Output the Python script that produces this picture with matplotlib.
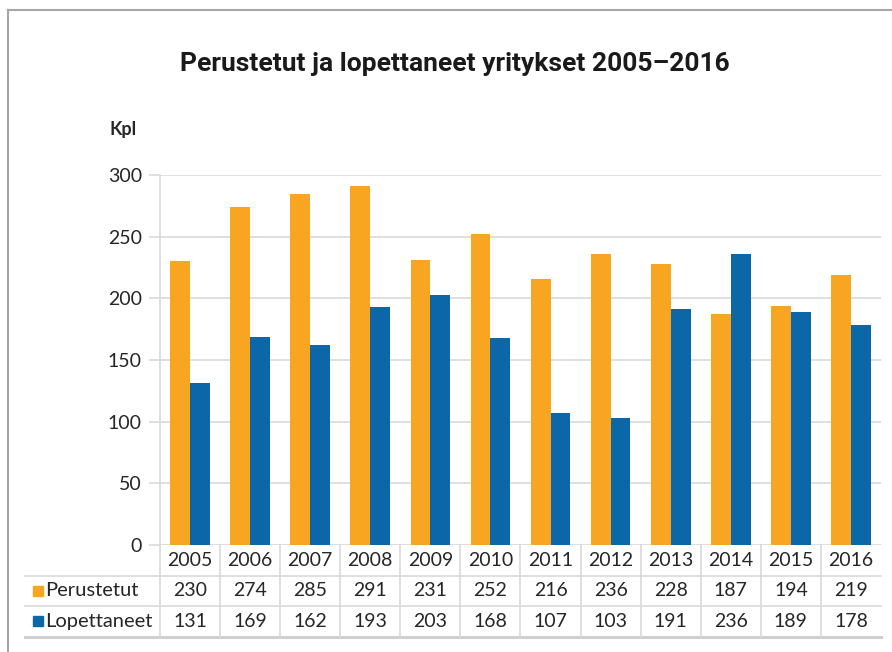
import matplotlib
matplotlib.use('Agg')
import numpy as np
from matplotlib import pyplot as plt

years = ['2005', '2006', '2007', '2008', '2009', '2010',
         '2011', '2012', '2013', '2014', '2015', '2016']
perustetut = [230, 274, 285, 291, 231, 252, 216, 236, 228, 187, 194, 219]
lopettaneet = [131, 169, 162, 193, 203, 168, 107, 103, 191, 236, 189, 178]
series_names = ['Perustetut', 'Lopettaneet']
yticks = [0, 50, 100, 150, 200, 250, 300]

ORANGE = '#F8A622'
BLUE = '#0B67A8'
GRID = '#D9D9D9'
TEXT = '#262626'

plt.rcParams['font.family'] = ['Lato', 'DejaVu Sans']

W, H = 892, 652
fig = plt.figure(figsize=(W / 100, H / 100), dpi=100)

# axes box in pixels: x 160..881, y 175..545 (from top)
ax_l, ax_r, ax_t, ax_b = 160, 881, 175, 545
ax = fig.add_axes([ax_l / W, 1 - ax_b / H, (ax_r - ax_l) / W, (ax_b - ax_t) / H])

x = np.arange(len(years))
bw = 0.33
ax.bar(x - bw / 2, perustetut, bw, color=ORANGE, zorder=3)
ax.bar(x + bw / 2, lopettaneet, bw, color=BLUE, zorder=3)

ax.set_xlim(-0.5, len(years) - 0.5)
ax.set_ylim(0, 300)
ax.set_yticks(yticks)
ax.set_xticks([])
ax.grid(axis='y', color=GRID, linewidth=1.2, zorder=0)
ax.tick_params(axis='y', length=8, width=1.2, color=GRID, pad=5,
               labelsize=14, labelcolor=TEXT)
for s in ['top', 'right', 'bottom']:
    ax.spines[s].set_visible(False)
ax.spines['left'].set_color(GRID)
ax.spines['left'].set_linewidth(1.2)

# data table below the axes
px = 300 / (ax_b - ax_t)          # data units per pixel (vertical)
colw = (ax_r - ax_l) / len(years)  # pixels per column
row_h = 30.5
rows_y = [-row_h * i * px for i in range(4)]
left_x = -0.5 - (ax_l - 25) / colw

tbl = dict(color=GRID, linewidth=1.2, clip_on=False)
for i in range(1, 3):
    ax.plot([left_x, len(years) - 0.5], [rows_y[i]] * 2, **tbl)
ax.plot([left_x, len(years) - 0.5], [rows_y[3]] * 2, color='#CFCFCF',
        linewidth=2.2, clip_on=False)
for i in range(len(years)):
    ax.plot([i - 0.5] * 2, [0, rows_y[3]], **tbl)

for i, yr in enumerate(years):
    ax.text(i, (rows_y[0] + rows_y[1]) / 2, yr, ha='center', va='center',
            fontsize=14, color=TEXT, clip_on=False)
    ax.text(i, (rows_y[1] + rows_y[2]) / 2, str(perustetut[i]), ha='center',
            va='center', fontsize=14, color=TEXT, clip_on=False)
    ax.text(i, (rows_y[2] + rows_y[3]) / 2, str(lopettaneet[i]), ha='center',
            va='center', fontsize=14, color=TEXT, clip_on=False)

for k, (name, col) in enumerate(zip(series_names, [ORANGE, BLUE])):
    yc = (rows_y[k + 1] + rows_y[k + 2]) / 2
    mx = -0.5 - (ax_l - 37.5) / colw
    ax.plot([mx], [yc], marker='s', markersize=7, color=col, clip_on=False)
    ax.text(-0.5 - (ax_l - 45) / colw, yc, name, ha='left', va='center',
            fontsize=14.5, color=TEXT, clip_on=False)

# unit label and title
fig.text(123 / W, 1 - 130 / H, 'Kpl', ha='center', va='center',
         fontsize=13, fontweight='bold', color=TEXT)
fig.text(455 / W, 1 - 64 / H, 'Perustetut ja lopettaneet yritykset 2005\u20132016',
         ha='center', va='center', fontsize=19, fontweight='bold', color='#1a1a1a',
         family=['Roboto', 'DejaVu Sans'])

# outer frame (top and left edges)
fig.add_artist(plt.Line2D([8 / W, 8 / W], [0, 1 - 10 / H], color='#A6A6A6',
                          linewidth=1.5, transform=fig.transFigure))
fig.add_artist(plt.Line2D([8 / W, 1], [1 - 10 / H, 1 - 10 / H], color='#A6A6A6',
                          linewidth=1.5, transform=fig.transFigure))

fig.savefig('out.png', dpi=100, facecolor='white')
